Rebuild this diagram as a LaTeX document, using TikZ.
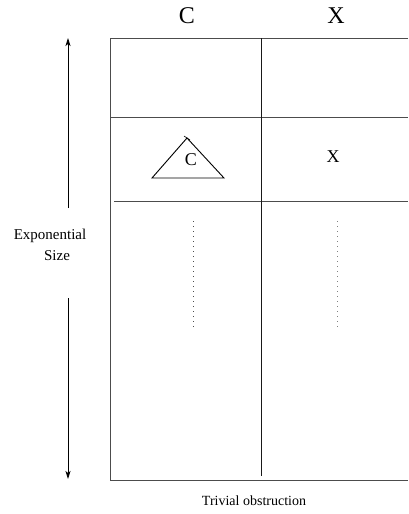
\documentclass[tikz,border=0pt]{standalone}
\usepackage{fontspec}
\setmainfont{Liberation Serif}
\usetikzlibrary{arrows.meta}
\begin{document}
\begin{tikzpicture}[x=1pt,y=-1pt,
  grid/.style={line width=1pt,black!70},
  divline/.style={line width=1pt,black!90},
  dotcol/.style={line width=1pt,black!70,dash pattern=on 1pt off 4pt},
  label/.style={inner sep=0pt,anchor=center},
  arr/.style={line width=0.8pt,-{Stealth[length=8pt,width=5pt,inset=2pt]}}]
\useasboundingbox (0,0) rectangle (408,514);
% headers
\node[label,font=\fontsize{24}{28}\selectfont] (hc) at (187,16) {C};
\node[label,font=\fontsize{24}{28}\selectfont] (hx) at (336,16) {X};
% grid
\coordinate (tl) at (110,38);
\coordinate (tr) at (408,38);
\coordinate (bl) at (110,480);
\coordinate (br) at (408,480);
\draw[grid] (tr) -- (tl) -- (bl) -- (br);
\coordinate (h1l) at (110,117);
\coordinate (h1r) at (408,117);
\draw[grid] (h1l) -- (h1r);
\coordinate (h2l) at (114,201);
\coordinate (h2r) at (408,201);
\draw[grid] (h2l) -- (h2r);
\coordinate (vt) at (261,38);
\coordinate (vb) at (261,476);
\draw[divline] (vt) -- (vb);
% triangle
\coordinate (ta) at (187,138);
\coordinate (tbl) at (152,178);
\coordinate (tbr) at (224,178);
\draw[line width=0.9pt] (ta) -- (tbl) -- (tbr) -- cycle;
\coordinate (tk1) at (184,136);
\coordinate (tk2) at (190,140);
\draw[line width=0.6pt] (tk1) -- (tk2);
\node[label,font=\fontsize{18}{21}\selectfont] (ic) at (191,160) {C};
\node[label,font=\fontsize{18}{21}\selectfont] (ix) at (333,157) {X};
% dots
\coordinate (d1t) at (193,221);
\coordinate (d1b) at (193,330);
\coordinate (d2t) at (337,221);
\coordinate (d2b) at (337,330);
\draw[dotcol] (d1t) -- (d1b);
\draw[dotcol,black!50] (d2t) -- (d2b);
% side label and arrows
\node[label,font=\fontsize{15}{18}\selectfont] (exp) at (50,236) {Exponential};
\node[label,font=\fontsize{15}{18}\selectfont] (size) at (57,256) {Size};
\coordinate (au) at (68,38);
\coordinate (aus) at (68,208);
\coordinate (ad) at (68,479);
\coordinate (ads) at (68,298);
\draw[arr] (aus) -- (au);
\draw[arr] (ads) -- (ad);
\node[label,font=\fontsize{14}{17}\selectfont] (triv) at (254,501) {Trivial obstruction};
\end{tikzpicture}
\end{document}
